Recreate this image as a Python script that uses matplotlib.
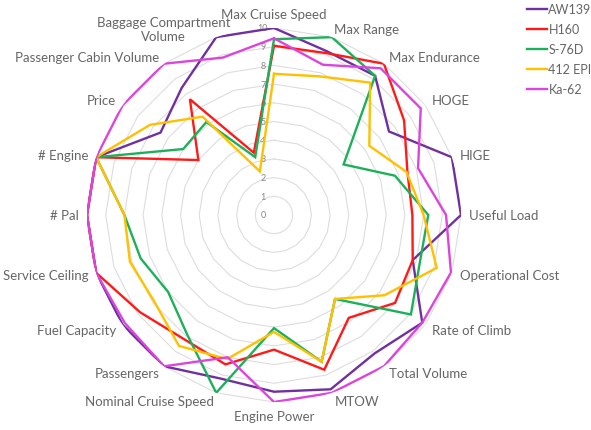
import numpy as np
import matplotlib
matplotlib.use("Agg")
import matplotlib.pyplot as plt

plt.rcParams['font.family'] = ['Lato', 'DejaVu Sans']

categories = ["Max Cruise Speed", "Max Range", "Max Endurance", "HOGE", "HIGE",
              "Useful Load", "Operational Cost", "Rate of Climb", "Total Volume", "MTOW",
              "Engine Power", "Nominal Cruise Speed", "Passengers", "Fuel Capacity",
              "Service Ceiling", "# Pal", "# Engine", "Price", "Passenger Cabin Volume",
              "Baggage Compartment\nVolume"]

aw139 = [10, 9.2, 9.2, 7.6, 10, 10, 7.8, 9.8, 9.15, 9.8,
         9.45, 9.2, 10, 10, 10, 10, 10, 7.5, 8.4, 10]
h160 = [9.05, 9.1, 10, 8.6, 7.5, 7.4, 7.8, 8.0, 6.8, 8.7,
        7.2, 8.4, 8.2, 8.85, 10, 10, 10, 5.0, 7.65, 3.5]
s76d = [9.4, 10, 9.2, 4.6, 6.8, 8.25, 8.2, 9.05, 5.55, 8.25,
        6.05, 10, 7.9, 7.0, 7.5, 8, 10, 6.0, 6.15, 3.25]
epi412 = [7.55, 7.8, 8.75, 6.3, 7.45, 8.0, 9.15, 7.3, 5.55, 8.25,
          6.25, 8.1, 8.65, 7.9, 8.1, 8, 10, 8.2, 6.5, 2.45]
ka62 = [9.45, 8.45, 9.7, 9.7, 8.1, 9.2, 9.95, 9.8, 10, 10,
        10, 8.0, 10, 9.85, 10, 10, 10, 10, 10, 8.85]

series = [("AW139", aw139, "#7030A0"),
          ("H160", h160, "#FF1A1A"),
          ("S-76D", s76d, "#1DB05A"),
          ("412 EPI", epi412, "#FFC000"),
          ("Ka-62", ka62, "#DC45DC")]

text_color = "#666666"
n = len(categories)
angles = np.arange(n) * 2 * np.pi / n
closed = np.append(angles, angles[0])

fig = plt.figure(figsize=(5.91, 4.31), dpi=100)
# center (274, 216), radius 187 px
ax = fig.add_axes([87 / 591, 28 / 431, 374 / 591, 374 / 431], projection='polar')
ax.set_theta_zero_location('N')
ax.set_theta_direction(-1)
ax.set_ylim(0, 10)
ax.grid(False)
ax.set_xticks([])
ax.set_yticks([])
ax.spines['polar'].set_visible(False)
ax.patch.set_alpha(0)

# polygon gridlines
for r in range(1, 11):
    ax.plot(closed, [r] * (n + 1), color="#DDDDDD", lw=0.8, zorder=1)

# radial tick labels
for r in range(11):
    ax.annotate(str(r), xy=(0, r), xytext=(-8, 0), textcoords='offset points',
                ha='center', va='center', fontsize=6.5, color="#888888")

lines = []
for name, vals, col in series:
    ln, = ax.plot(closed, vals + vals[:1], color=col, lw=1.7, label=name, zorder=3,
                  solid_joinstyle='miter')
    lines.append(ln)

for ang, lab in zip(angles, categories):
    s = np.sin(ang)
    c = np.cos(ang)
    if abs(s) < 0.05:
        ha = 'center'
        va = 'bottom' if c > 0 else 'top'
    else:
        ha = 'left' if s > 0 else 'right'
        va = 'center'
    dx = 0
    if lab.startswith("Baggage"):
        ha = 'center'
        dx = -36
    ax.annotate(lab, xy=(ang, 10.45), xytext=(dx, 0), textcoords='offset points',
                ha=ha, va=va, fontsize=9.5, color=text_color,
                multialignment='center', annotation_clip=False)

leg = fig.legend(handles=lines, loc='upper right', bbox_to_anchor=(1.016, 1.01),
                 frameon=False, fontsize=9, handlelength=1.6, handletextpad=0.15,
                 labelspacing=0.64, borderaxespad=0.3)
for t in leg.get_texts():
    t.set_color(text_color)

fig.savefig("out.png", dpi=100)
